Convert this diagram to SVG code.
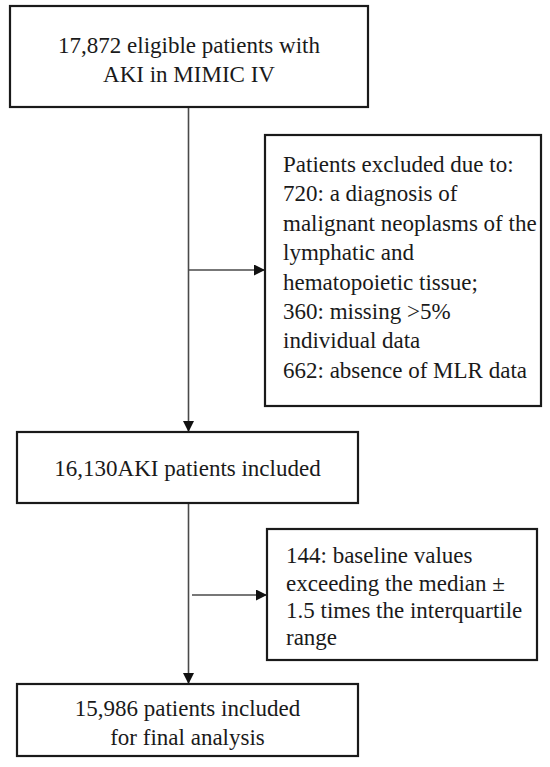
<svg xmlns="http://www.w3.org/2000/svg" width="550" height="767" viewBox="0 0 550 767">
<defs>
<marker id="arr" markerUnits="userSpaceOnUse" markerWidth="11" markerHeight="11" refX="11" refY="5.5" orient="auto">
<path d="M0,0 L11,5.5 L0,11 z" fill="#111"/>
</marker>
</defs>
<style>
.box{fill:#fff;stroke:#1a1a1a;stroke-width:2.2}
.t{font-size:23px;fill:#1a1a1a}
.c{text-anchor:middle}
.ln{stroke:#4a4a4a;stroke-width:1.6;fill:none}
</style>
<rect width="550" height="767" fill="#fff"/>
<g id="connectors">
<line class="ln" x1="188.5" y1="107" x2="188.5" y2="432" marker-end="url(#arr)"/>
<line class="ln" x1="188.5" y1="270" x2="265" y2="270" marker-end="url(#arr)"/>
<line class="ln" x1="188.5" y1="503" x2="188.5" y2="684" marker-end="url(#arr)"/>
<line class="ln" x1="192" y1="595" x2="267" y2="595" marker-end="url(#arr)"/>
</g>
<g font-family="Liberation Serif, serif">
<g id="n1">
<rect class="box" x="10" y="6" width="358" height="101"/>
<text class="t c" x="189" y="53">17,872 eligible patients with</text>
<text class="t c" x="189" y="82">AKI in MIMIC IV</text>
</g>
<g id="n2">
<rect class="box" x="265" y="135" width="276" height="271"/>
<text class="t" x="283" y="172">Patients excluded due to:</text>
<text class="t" x="283" y="201.4">720: a diagnosis of</text>
<text class="t" x="283" y="230.8">malignant neoplasms of the</text>
<text class="t" x="283" y="260.2">lymphatic and</text>
<text class="t" x="283" y="289.6">hematopoietic tissue;</text>
<text class="t" x="283" y="319">360: missing &gt;5%</text>
<text class="t" x="283" y="348.4">individual data</text>
<text class="t" x="283" y="377.8">662: absence of MLR data</text>
</g>
<g id="n3">
<rect class="box" x="17" y="432" width="341" height="71"/>
<text class="t c" x="187.5" y="476">16,130AKI patients included</text>
</g>
<g id="n4">
<rect class="box" x="267" y="529" width="270" height="131"/>
<text class="t" x="286" y="563">144: baseline values</text>
<text class="t" x="286" y="591">exceeding the median ±</text>
<text class="t" x="286" y="618">1.5 times the interquartile</text>
<text class="t" x="286" y="645">range</text>
</g>
<g id="n5">
<rect class="box" x="17" y="684" width="341" height="72"/>
<text class="t c" x="187.5" y="716">15,986 patients included</text>
<text class="t c" x="187.5" y="745">for final analysis</text>
</g>
</g>
</svg>
